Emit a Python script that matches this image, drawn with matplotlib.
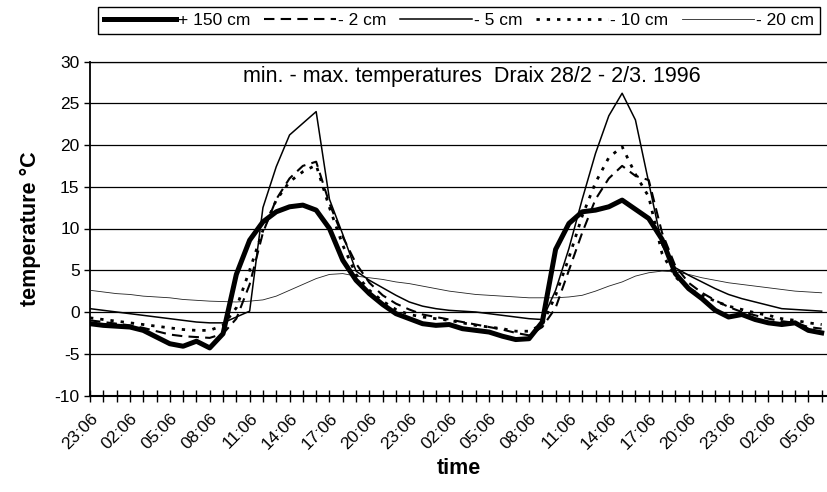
import matplotlib
matplotlib.use('Agg')
import matplotlib.pyplot as plt
import matplotlib.transforms as mtransforms
import numpy as np

plt.rcParams['font.family'] = ['Liberation Sans', 'DejaVu Sans']
plt.rcParams['axes.unicode_minus'] = False

# hourly readings, 23:06 28/2 onwards
hours = np.arange(56)
tick_labels = ['23:06', '02:06', '05:06', '08:06', '11:06', '14:06', '17:06', '20:06',
               '23:06', '02:06', '05:06', '08:06', '11:06', '14:06', '17:06', '20:06',
               '23:06', '02:06', '05:06']

t150 = [-1.4, -1.6, -1.7, -1.8, -2.2, -3.0, -3.8, -4.1, -3.5, -4.3,
        -2.6, 4.5, 8.6, 10.8, 12.0, 12.6, 12.8, 12.2, 10.0, 6.2,
        3.8, 2.2, 0.9, -0.2, -0.8, -1.4, -1.6, -1.5, -2.0, -2.2,
        -2.4, -2.9, -3.3, -3.2, -1.2, 7.5, 10.6, 12.0, 12.2, 12.6,
        13.4, 12.3, 11.2, 8.7, 4.6, 2.8, 1.6, 0.2, -0.6, -0.3,
        -0.9, -1.3, -1.5, -1.3, -2.2, -2.5]
t2 = [-1.0, -1.2, -1.4, -1.6, -1.9, -2.3, -2.7, -2.9, -3.0, -3.1,
      -2.6, -0.8, 3.3, 9.5, 13.5, 16.0, 17.5, 18.0, 13.0, 9.0,
      5.8, 3.5, 2.0, 1.0, 0.3, -0.3, -0.6, -0.9, -1.2, -1.5,
      -1.8, -2.1, -2.5, -2.8, -1.8, 0.5, 5.0, 9.5, 13.5, 16.0,
      17.5, 16.3, 15.8, 9.5, 5.5, 3.5, 2.3, 1.4, 0.6, 0.0,
      -0.4, -0.8, -1.1, -1.3, -1.8, -2.0]
t5 = [0.4, 0.2, 0.0, -0.2, -0.4, -0.6, -0.8, -1.0, -1.2, -1.3,
      -1.3, -0.6, 0.1, 12.5, 17.4, 21.2, 22.6, 24.0, 13.5, 9.3,
      4.9, 3.8, 2.9, 2.0, 1.2, 0.7, 0.4, 0.2, 0.1, 0.0,
      -0.2, -0.4, -0.6, -0.8, -0.9, 2.6, 7.6, 13.5, 19.0, 23.5,
      26.2, 23.0, 15.5, 8.0, 5.3, 4.4, 3.6, 2.8, 2.1, 1.6,
      1.2, 0.8, 0.4, 0.3, 0.2, 0.1]
t10 = [-0.7, -0.9, -1.1, -1.3, -1.5, -1.7, -1.9, -2.1, -2.2, -2.2,
       -1.6, 0.5, 5.0, 9.8, 13.4, 15.6, 16.8, 17.6, 12.5, 8.0,
       4.5, 2.6, 1.3, 0.3, -0.3, -0.6, -0.8, -1.0, -1.3, -1.6,
       -1.8, -2.0, -2.3, -2.3, -1.5, 2.0, 6.5, 11.5, 15.5, 18.5,
       19.8, 16.5, 13.8, 7.0, 4.2, 2.8, 2.0, 1.3, 0.7, 0.3,
       -0.1, -0.4, -0.8, -1.0, -1.3, -1.5]
t20 = [2.6, 2.4, 2.2, 2.1, 1.9, 1.8, 1.7, 1.5, 1.4, 1.3,
       1.25, 1.2, 1.3, 1.45, 1.9, 2.6, 3.3, 4.0, 4.5, 4.6,
       4.3, 4.1, 3.9, 3.6, 3.4, 3.1, 2.8, 2.5, 2.3, 2.1,
       2.0, 1.9, 1.8, 1.7, 1.7, 1.7, 1.8, 2.0, 2.5, 3.1,
       3.6, 4.3, 4.7, 4.9, 4.8, 4.5, 4.1, 3.8, 3.5, 3.3,
       3.1, 2.9, 2.7, 2.5, 2.4, 2.3]

fig = plt.figure(figsize=(8.27, 4.92), dpi=100)
ax = fig.add_axes([90/827, 1-395.5/492, 737/827, 334/492])

l1, = ax.plot(hours, t150, color='black', lw=3.6, solid_joinstyle='round', label='+ 150 cm', zorder=6)
l2, = ax.plot(hours, t2, color='black', lw=1.5, ls=(0, (5, 3)), label='- 2 cm', zorder=5)
l3, = ax.plot(hours, t5, color='black', lw=1.1, label='- 5 cm', zorder=4)
l4, = ax.plot(hours, t10, color='black', lw=2.0, ls=(0, (1.2, 2.5)), label='- 10 cm', zorder=4)
l5, = ax.plot(hours, t20, color='#222222', lw=0.6, label='- 20 cm', zorder=3)

ax.set_xlim(0, 55.4)
ax.set_ylim(-10, 30)
ax.set_yticks(np.arange(-10, 31, 5))
ax.set_xticks(np.arange(0, 55, 3))
ax.set_xticks(hours, minor=True)
ax.set_xticklabels(tick_labels, rotation=45, ha='right', rotation_mode='anchor', fontsize=12.5)
shift = mtransforms.ScaledTranslation(-6/100, 0, fig.dpi_scale_trans)
for lab in ax.get_xticklabels():
    lab.set_transform(lab.get_transform() + shift)
ax.tick_params(axis='y', labelsize=12.5, direction='out', length=4, width=1)
ax.tick_params(axis='x', which='both', direction='inout', length=8, width=1, pad=7)
ax.grid(axis='y', color='black', lw=0.9)
ax.spines['right'].set_visible(False)
ax.spines['left'].set_linewidth(1.3)
ax.spines['bottom'].set_linewidth(1.5)
ax.spines['top'].set_linewidth(0.9)

ax.text(0.518, 0.955, 'min. - max. temperatures  Draix 28/2 - 2/3. 1996',
        transform=ax.transAxes, ha='center', va='center', fontsize=15.5)
ax.set_xlabel('time', fontsize=15.5, fontweight='bold', labelpad=4)
ax.set_ylabel('temperature °C', fontsize=15.5, fontweight='bold', labelpad=10)

leg = fig.legend(handles=[l1, l2, l3, l4, l5], loc='upper left',
                 bbox_to_anchor=(98/827, 1-7/492), ncol=5, fontsize=12.5,
                 frameon=True, fancybox=False, edgecolor='black', framealpha=1,
                 handlelength=4.15, handletextpad=0.1, columnspacing=0.8,
                 borderpad=0.35, borderaxespad=0)
leg.get_frame().set_linewidth(1.0)

fig.savefig('out.png', dpi=100)
